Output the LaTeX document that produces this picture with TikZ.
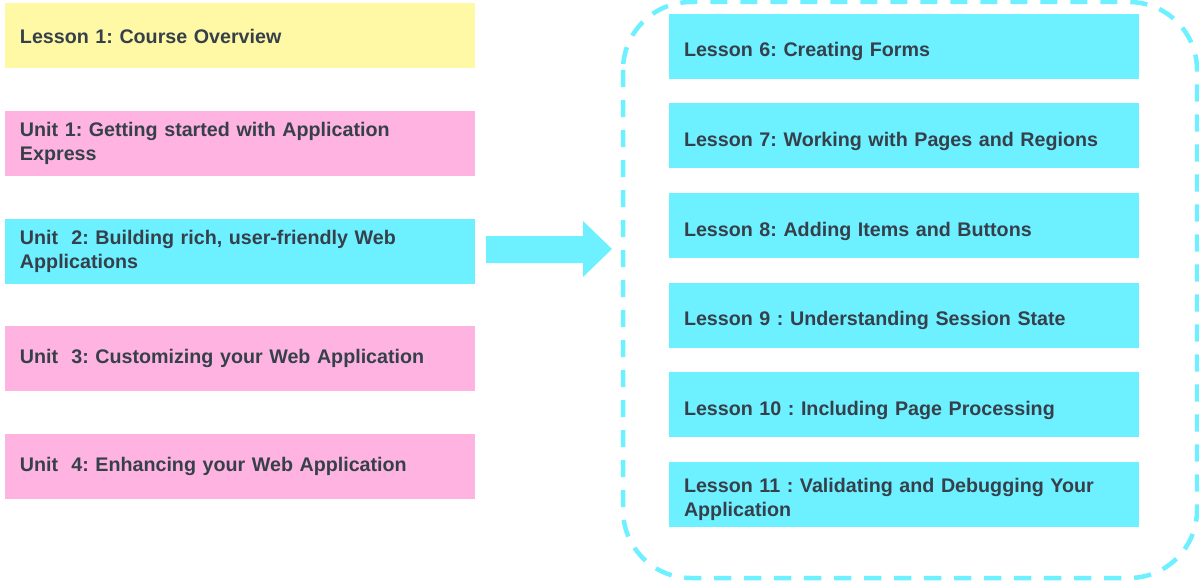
\documentclass[tikz,border=0pt]{standalone}
\usepackage{fontspec}
\setmainfont{Liberation Sans}
\frenchspacing
\usetikzlibrary{positioning}
\definecolor{lessonyellow}{RGB}{255,249,165}
\definecolor{unitpink}{RGB}{255,179,225}
\definecolor{unitcyan}{RGB}{109,240,255}
\definecolor{labelgray}{RGB}{54,64,74}
\tikzset{
  topic/.style={rectangle, minimum width=11.75cm, minimum height=1.625cm,
    text width=11cm, inner xsep=0.375cm, align=left,
    font=\fontsize{14}{17}\selectfont\bfseries, text=labelgray},
  yellowbox/.style={topic, fill=lessonyellow},
  pinkbox/.style={topic, fill=unitpink},
  cyanbox/.style={topic, fill=unitcyan},
  lessonbox/.style={cyanbox, execute at begin node={\rule{0pt}{18pt}}},
  frame/.style={draw=unitcyan, line width=3.2pt, rounded corners=1.7cm,
    dash pattern=on 0.43cm off 0.32cm}
}
\begin{document}
\begin{tikzpicture}
  \useasboundingbox (0,0) rectangle (29.975,-14.55);
  % left column: course units
  \node[yellowbox] (l1) at (6.0,-0.9) {Lesson 1: Course Overview};
  \node[pinkbox, below=1.05cm of l1] (u1) {Unit 1: Getting started with Application\\Express};
  \node[cyanbox, below=1.05cm of u1] (u2) {Unit~ 2: Building rich, user-friendly Web\\Applications};
  \node[pinkbox, below=1.05cm of u2] (u3) {Unit~ 3: Customizing your Web Application};
  \node[pinkbox, below=1.05cm of u3] (u4) {Unit~ 4: Enhancing your Web Application};
  % right column: lessons of unit 2
  \node[lessonbox] (l6) at (22.6,-1.16) {Lesson 6: Creating Forms};
  \node[lessonbox, below=0.6cm of l6] (l7) {Lesson 7: Working with Pages and Regions};
  \node[lessonbox, below=0.6cm of l7] (l8) {Lesson 8: Adding Items and Buttons};
  \node[lessonbox, below=0.6cm of l8] (l9) {Lesson 9 : Understanding Session State};
  \node[lessonbox, below=0.6cm of l9] (l10) {Lesson 10 : Including Page Processing};
  \node[lessonbox, below=0.6cm of l10] (l11) {Lesson 11 : Validating and Debugging Your\\Application};
  % dashed frame round the lessons
  \draw[frame] (15.575,-0.05) rectangle (29.925,-14.45);
  % block arrow
  \fill[unitcyan] (12.15,-5.9) -- (14.575,-5.9) -- (14.575,-5.525) -- (15.3,-6.225)
    -- (14.575,-6.925) -- (14.575,-6.575) -- (12.15,-6.575) -- cycle;
\end{tikzpicture}
\end{document}
